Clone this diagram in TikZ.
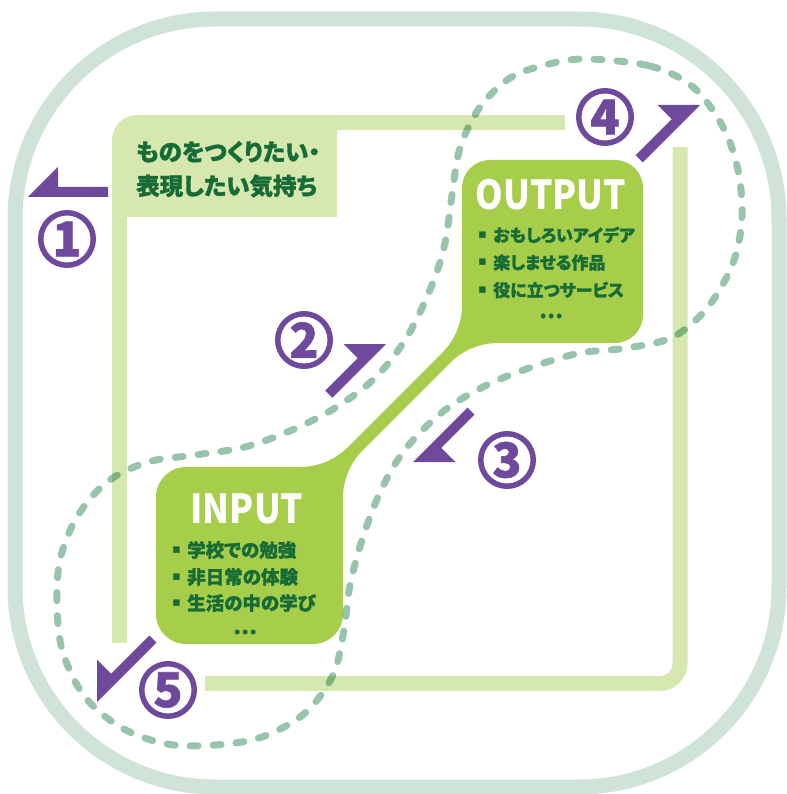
\documentclass[tikz,border=0pt]{standalone}
\usepackage{fontspec}
\setmainfont{Noto Sans CJK JP}
\newfontfamily\jpn{Noto Sans CJK JP}[RawFeature=+palt]
\newfontfamily\jph{Noto Sans CJK JP}[RawFeature=+palt,BoldFeatures={FakeBold=1.3}]
\newfontfamily\dejavu{DejaVu Sans}
\definecolor{framec}{HTML}{CFE3D8}
\definecolor{lgreen}{HTML}{D6E8B0}
\definecolor{mgreen}{HTML}{A7CE4B}
\definecolor{dgreen}{HTML}{176B36}
\definecolor{purp}{HTML}{6F4A9C}
\definecolor{dashc}{HTML}{98C4AD}
\tikzset{
  boxtext/.style={anchor=west,inner sep=0,text=dgreen,font=\jph\bfseries\fontsize{23.5}{23.5}\selectfont},
  itemo/.style={anchor=west,inner sep=0,text=dgreen,font=\jph\bfseries\fontsize{17}{17}\selectfont},
  itemi/.style={anchor=west,inner sep=0,text=dgreen,font=\jph\bfseries\fontsize{18.5}{18.5}\selectfont},
  bul/.style={inner sep=0,text=dgreen,font=\dejavu\fontsize{13}{13}\selectfont},
  dots/.style={inner sep=0,text=dgreen,font=\jph\bfseries\fontsize{21}{21}\selectfont},
  bigword/.style={anchor=base,inner sep=0,text=white,font=\jpn\bfseries\fontsize{40}{40}\selectfont},
  numc/.style={circle,draw=purp,line width=5.5pt,minimum size=52.5pt,inner sep=0,text=purp,font=\jph\bfseries\fontsize{48}{48}\selectfont},
  harp/.style={fill=purp},
  lgline/.style={draw=lgreen,line width=15pt},
  loopline/.style={draw=dashc,line width=7pt,line cap=round,dash pattern=on 8pt off 15pt},
}
\begin{document}
\begin{tikzpicture}[x=1pt,y=-1pt]
\useasboundingbox (0,0) rectangle (786,794);
% outer frame
\draw[framec,line width=15pt,rounded corners=200pt] (15,19) rectangle (779,787);
% light green guide lines
\draw[lgline] (119.5,643) -- (119.5,200);
\draw[lgline] (330,122.5) -- (565,122.5);
\draw[lgline,rounded corners=20pt] (680,147) -- (680,683.5) -- (205,683.5);
\fill[lgreen] (112,217) -- (112,140) .. controls (112,126.2) and (123.2,115) .. (137,115) -- (337,115) -- (337,217) -- cycle;
% main green shape
\fill[mgreen] (156,614)
 -- (156,497) .. controls (156,480.4) and (169.4,467) .. (186,467)
 -- (300,467) .. controls (318,467) and (335.3,459.7) .. (348,447)
 -- (442.2,352.8) .. controls (454.9,340.1) and (462,323) .. (462,305)
 -- (462,188) .. controls (462,172.5) and (474.5,160) .. (490,160)
 -- (615,160) .. controls (630.5,160) and (643,172.5) .. (643,188)
 -- (643,315) .. controls (643,330.5) and (630.5,343) .. (615,343)
 -- (498,343) .. controls (480,343) and (462.9,350.1) .. (450.2,362.8)
 -- (362.8,450.2) .. controls (350.1,462.9) and (343,480) .. (343,498)
 -- (343,614) .. controls (343,630.6) and (329.6,644) .. (313,644)
 -- (186,644) .. controls (169.4,644) and (156,630.6) .. (156,614)
 -- cycle;
% dashed loop
\begin{scope}[blend mode=multiply]
\draw[loopline] plot[smooth cycle,tension=0.55] coordinates {
 (585,59) (650,66) (693,87) (723,127) (738,170) (742,217) (733,263) (708,307)
 (673,337) (627,348) (580,353) (532,367) (487,385) (445,410) (407,447) (382,488)
 (363,537) (350,585) (344,630) (333,675) (305,713) (262,737) (215,745) (167,744)
 (122,728) (85,697) (63,653) (57,607) (60,560) (77,517) (107,482) (148,462)
 (195,455) (245,447) (292,430) (335,408) (375,378) (407,337) (432,285) (445,243)
 (452,195) (460,148) (480,107) (510,78) (545,65)};
\end{scope}
% box text
\node[boxtext] (t1) at (136,152) {ものをつくりたい・};
\node[boxtext] (t2) at (136,186) {表現したい気持ち};
% OUTPUT
\node[bigword] (out) at (551,210) {\scalebox{0.88}[1]{OUTPUT}};
\node[bul] (ob1) at (482.5,235) {▪};
\node[itemo] (oi1) at (493,235) {おもしろいアイデア};
\node[bul] (ob2) at (482.5,262.5) {▪};
\node[itemo] (oi2) at (493,262.5) {楽しませる作品};
\node[bul] (ob3) at (482.5,290) {▪};
\node[itemo] (oi3) at (493,290) {役に立つサービス};
\node[dots] (od) at (551,316) {…};
% INPUT
\node[bigword] (in) at (247,523) {\scalebox{0.88}[1]{INPUT}};
\node[bul] (ib1) at (176.5,550) {▪};
\node[itemi] (ii1) at (187,550) {学校での勉強};
\node[bul] (ib2) at (176.5,577) {▪};
\node[itemi] (ii2) at (187,577) {非日常の体験};
\node[bul] (ib3) at (176.5,603) {▪};
\node[itemi] (ii3) at (187,603) {生活の中の学び};
\node[dots] (id) at (245,632) {…};
% harpoon arrows
\fill[harp] (28,197) -- (58,167) -- (58,187) -- (108,187) -- (108,197) -- cycle;
\fill[harp] (386,344) -- (343.6,344) -- (357.7,358.1) -- (325.2,390.6) -- (332.3,397.7) -- cycle;
\fill[harp] (413,462) -- (455.4,462) -- (441.3,447.9) -- (474.5,414.7) -- (467.4,407.6) -- cycle;
\fill[harp] (700,105) -- (657.6,105) -- (671.7,119.1) -- (635.6,155.2) -- (642.7,162.3) -- cycle;
\fill[harp] (97,702) -- (97,659.6) -- (111.1,673.7) -- (149.3,635.5) -- (156.4,642.6) -- cycle;
% circled numbers
\node[numc] (c1) at (67,239) {1};
\node[numc] (c2) at (304,340) {2};
\node[numc] (c3) at (507,460) {3};
\node[numc] (c4) at (605,117) {4};
\node[numc] (c5) at (168,690) {5};
\end{tikzpicture}
\end{document}
